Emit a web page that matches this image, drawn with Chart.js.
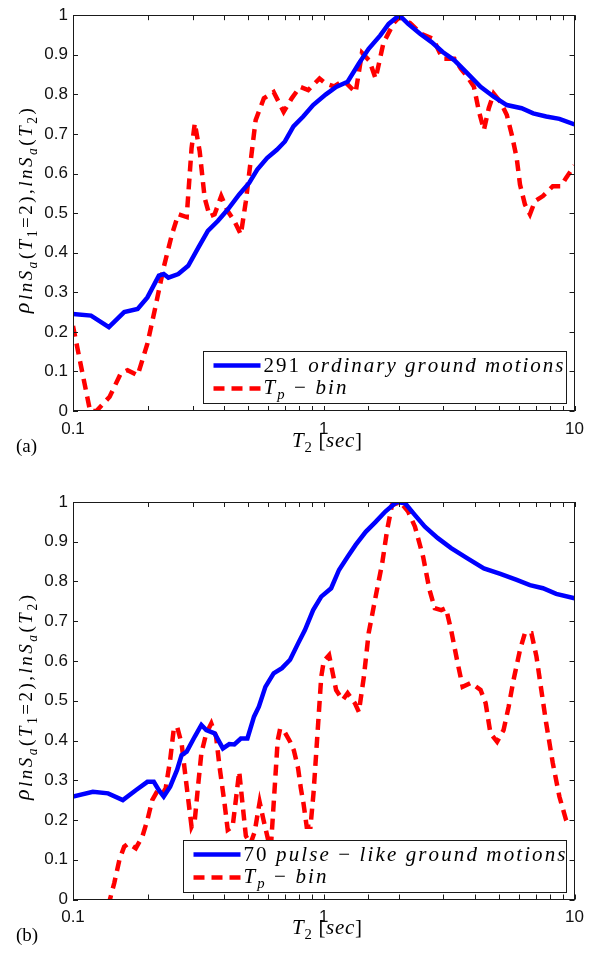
<!DOCTYPE html>
<html>
<head>
<meta charset="utf-8">
<script src="https://cdn.jsdelivr.net/npm/chart.js@4.4.1/dist/chart.umd.min.js"></script>
<style>
  html, body { margin: 0; padding: 0; background: #fff; }
  #wrap { position: relative; width: 592px; height: 956px; }
  canvas { position: absolute; left: 0; }
</style>
</head>
<body>
<div id="wrap">
  <canvas id="chartA" width="592" height="478" style="top:0"></canvas>
  <canvas id="chartB" width="592" height="478" style="top:478px"></canvas>
</div>
<script>
// ---- data ----
// (a) 291 ordinary ground motions
const periodsOrdinary = [0.1, 0.118, 0.139, 0.16, 0.181, 0.198, 0.22, 0.23, 0.24, 0.263, 0.288, 0.316, 0.345, 0.378, 0.414, 0.46, 0.504, 0.543, 0.594, 0.65, 0.70, 0.757, 0.828, 0.907, 1.02, 1.12, 1.245, 1.38, 1.51, 1.68, 1.815, 2.0, 2.17, 2.42, 2.69, 2.98, 3.32, 3.74, 4.22, 4.76, 5.37, 6.15, 6.84, 7.71, 8.7, 10];
const rhoOrdinary = [0.245, 0.241, 0.212, 0.25, 0.258, 0.287, 0.342, 0.346, 0.337, 0.346, 0.367, 0.413, 0.455, 0.48, 0.509, 0.547, 0.576, 0.61, 0.639, 0.66, 0.681, 0.719, 0.744, 0.773, 0.80, 0.819, 0.832, 0.878, 0.915, 0.949, 0.978, 1.0, 0.978, 0.953, 0.932, 0.907, 0.886, 0.853, 0.819, 0.794, 0.773, 0.765, 0.752, 0.744, 0.738, 0.724];

// (a) Tp-bin
const periodsBinA = [0.1, 0.1065, 0.117, 0.124, 0.14, 0.155, 0.165, 0.181, 0.198, 0.213, 0.23, 0.248, 0.263, 0.284, 0.297, 0.306, 0.32, 0.335, 0.351, 0.367, 0.39, 0.414, 0.44, 0.467, 0.489, 0.511, 0.535, 0.577, 0.631, 0.692, 0.745, 0.804, 0.867, 0.962, 1.02, 1.1, 1.2, 1.34, 1.42, 1.52, 1.61, 1.73, 1.9, 2.0, 2.21, 2.45, 2.73, 2.98, 3.32, 3.52, 3.74, 3.97, 4.16, 4.35, 4.55, 4.76, 5.06, 5.37, 5.62, 5.88, 6.06, 6.34, 6.64, 6.95, 7.48, 8.19, 8.84, 9.25, 10];
const rhoBinA = [0.215, 0.128, 0.0, 0.0, 0.036, 0.095, 0.103, 0.09, 0.17, 0.262, 0.363, 0.446, 0.497, 0.49, 0.664, 0.727, 0.656, 0.538, 0.492, 0.497, 0.543, 0.505, 0.48, 0.446, 0.53, 0.631, 0.735, 0.79, 0.806, 0.756, 0.79, 0.819, 0.811, 0.84, 0.827, 0.82, 0.835, 0.805, 0.905, 0.885, 0.84, 0.93, 0.98, 0.995, 0.98, 0.953, 0.94, 0.89, 0.89, 0.865, 0.844, 0.819, 0.756, 0.71, 0.765, 0.802, 0.781, 0.748, 0.698, 0.639, 0.572, 0.522, 0.497, 0.53, 0.543, 0.568, 0.568, 0.589, 0.62];

// (b) 70 pulse-like ground motions
const periodsPulse = [0.1, 0.12, 0.138, 0.158, 0.178, 0.198, 0.21, 0.22, 0.23, 0.244, 0.26, 0.271, 0.284, 0.306, 0.325, 0.34, 0.367, 0.396, 0.42, 0.44, 0.467, 0.496, 0.527, 0.551, 0.585, 0.631, 0.681, 0.734, 0.791, 0.841, 0.907, 0.977, 1.07, 1.15, 1.245, 1.34, 1.47, 1.61, 1.76, 1.95, 2.11, 2.31, 2.53, 2.85, 3.22, 3.74, 4.35, 5.06, 5.88, 6.64, 7.48, 8.45, 10];
const rhoPulse = [0.259, 0.271, 0.267, 0.25, 0.275, 0.296, 0.296, 0.275, 0.259, 0.284, 0.326, 0.363, 0.372, 0.41, 0.439, 0.426, 0.418, 0.38, 0.391, 0.39, 0.405, 0.405, 0.46, 0.485, 0.535, 0.569, 0.582, 0.603, 0.645, 0.678, 0.728, 0.762, 0.783, 0.829, 0.862, 0.892, 0.925, 0.95, 0.976, 1.0, 0.997, 0.967, 0.938, 0.909, 0.884, 0.858, 0.833, 0.819, 0.804, 0.791, 0.783, 0.769, 0.758];

// (b) Tp-bin
const periodsBinB = [0.133, 0.139, 0.146, 0.153, 0.16, 0.166, 0.178, 0.189, 0.198, 0.207, 0.22, 0.233, 0.244, 0.252, 0.26, 0.271, 0.284, 0.297, 0.306, 0.316, 0.325, 0.34, 0.356, 0.372, 0.384, 0.402, 0.414, 0.433, 0.446, 0.46, 0.474, 0.489, 0.51, 0.53, 0.555, 0.575, 0.6, 0.615, 0.64, 0.655, 0.67, 0.7, 0.734, 0.76, 0.79, 0.81, 0.83, 0.855, 0.885, 0.91, 0.94, 0.977, 1.0, 1.05, 1.12, 1.19, 1.245, 1.33, 1.38, 1.445, 1.51, 1.61, 1.71, 1.79, 1.87, 2.02, 2.17, 2.31, 2.49, 2.64, 2.77, 2.94, 3.07, 3.22, 3.42, 3.58, 3.86, 4.22, 4.42, 4.62, 4.91, 5.21, 5.46, 5.71, 6.06, 6.34, 6.73, 7.05, 7.37, 7.71, 8.19, 8.7, 9.25, 9.53];
const rhoBinB = [-0.06, -0.01, 0.041, 0.099, 0.133, 0.141, 0.129, 0.158, 0.2, 0.25, 0.28, 0.271, 0.351, 0.426, 0.435, 0.393, 0.284, 0.183, 0.2, 0.292, 0.368, 0.418, 0.443, 0.41, 0.334, 0.242, 0.175, 0.183, 0.25, 0.322, 0.242, 0.16, 0.14, 0.17, 0.245, 0.2, 0.15, 0.13, 0.3, 0.4, 0.43, 0.42, 0.397, 0.375, 0.33, 0.28, 0.242, 0.183, 0.183, 0.267, 0.4, 0.56, 0.6, 0.615, 0.527, 0.502, 0.519, 0.494, 0.472, 0.56, 0.67, 0.762, 0.846, 0.93, 0.992, 1.0, 0.976, 0.938, 0.862, 0.779, 0.733, 0.728, 0.733, 0.678, 0.594, 0.535, 0.545, 0.527, 0.494, 0.418, 0.397, 0.426, 0.485, 0.552, 0.628, 0.67, 0.67, 0.611, 0.527, 0.443, 0.343, 0.259, 0.2, 0.183];

// tick labels and texts
const xTickLabels = [0.1, 1, 10];
const legendLabelsA = ['291 ordinary ground motions', 'T_p − bin'];
const legendLabelsB = ['70 pulse − like ground motions', 'T_p − bin'];
const xTitle = 'T_2 [sec]';
const yTitle = 'ρ_{lnS_a(T_1=2),lnS_a(T_2)}';

const SERIF = '"Liberation Serif", "DejaVu Serif", serif';
const SANS = '"Liberation Sans", Arial, sans-serif';
const BLUE = '#0000ff';
const RED = '#ff0000';
const INK = '#1a1a1a';

// Превращаем "TeX-подобную" строку в куски текста с шрифтом и сдвигом
function mathParts(src, size, ratios = [1, 0.7, 0.7], shifts = [0, 0.25, 0.45]) {
  const parts = [];
  let i = 0;
  const push = (c, level) => {
    const s = size * ratios[level];
    const italic = /[A-Za-zρ]/.test(c);
    parts.push({ t: c, font: (italic ? 'italic ' : '') + s.toFixed(1) + 'px ' + SERIF, dy: size * shifts[level] });
  };
  const walk = (level) => {
    while (i < src.length) {
      const c = src[i];
      if (c === '}') { i++; return; }
      if (c === '_') {
        i++;
        if (src[i] === '{') { i++; walk(level + 1); }
        else { push(src[i], level + 1); i++; }
        continue;
      }
      push(c, level);
      i++;
    }
  };
  walk(0);
  return parts;
}

// Рисуем куски подряд, растягивая межбуквенный интервал до нужной ширины
function drawParts(ctx, parts, x, y, target) {
  let natural = 0;
  parts.forEach(p => { ctx.font = p.font; p.w = ctx.measureText(p.t).width; natural += p.w; });
  const extra = target && parts.length > 1 ? (target - natural) / (parts.length - 1) : 0;
  let cx = x;
  parts.forEach(p => {
    ctx.font = p.font;
    ctx.fillText(p.t, cx, y + p.dy);
    cx += p.w + extra;
  });
}

// Рамка, внутренние засечки, легенда и подписи осей в стиле MATLAB
const matlabFrame = {
  id: 'matlabFrame',
  afterDatasetsDraw(chart, args, opts) {
    const { ctx, chartArea: a, scales: { x, y } } = chart;
    ctx.save();
    ctx.strokeStyle = INK;
    ctx.lineWidth = 1;
    ctx.strokeRect(Math.round(a.left) + 0.5, Math.round(a.top) + 0.5, Math.round(a.width) - 1, Math.round(a.height) - 1);
    ctx.beginPath();
    y.ticks.forEach(t => {
      const py = Math.round(y.getPixelForValue(t.value)) + 0.5;
      ctx.moveTo(a.left, py); ctx.lineTo(a.left + 5, py);
      ctx.moveTo(a.right, py); ctx.lineTo(a.right - 5, py);
    });
    x.ticks.forEach(t => {
      const px = Math.round(x.getPixelForValue(t.value)) + 0.5;
      ctx.moveTo(px, a.bottom); ctx.lineTo(px, a.bottom - 5);
      ctx.moveTo(px, a.top); ctx.lineTo(px, a.top + 5);
    });
    ctx.stroke();

    // легенда
    const lg = opts.legend;
    const bx = Math.round(a.right - lg.right - lg.width) + 0.5;
    const by = Math.round(a.bottom - lg.bottom - lg.height) + 0.5;
    ctx.fillStyle = '#fff';
    ctx.fillRect(bx, by, lg.width, lg.height);
    ctx.strokeRect(bx, by, lg.width, lg.height);
    lg.rows.forEach((row, i) => {
      const ly = by + 14 + i * 23;
      ctx.beginPath();
      ctx.strokeStyle = row.color;
      ctx.lineWidth = 4.5;
      ctx.setLineDash(row.dash);
      ctx.moveTo(bx + 10, ly);
      ctx.lineTo(bx + 10 + lg.sample, ly);
      ctx.stroke();
      ctx.setLineDash([]);
      ctx.fillStyle = '#000';
      ctx.textBaseline = 'alphabetic';
      drawParts(ctx, mathParts(row.label, 21), bx + lg.sample + 13, by + 20 + i * 22, row.width);
    });
    ctx.restore();
  },
  afterDraw(chart, args, opts) {
    const { ctx, chartArea: a } = chart;
    ctx.save();
    ctx.fillStyle = '#000';
    ctx.textBaseline = 'alphabetic';
    // подпись оси X
    drawParts(ctx, mathParts(xTitle, 21), 292, a.bottom + opts.xTitleDy, 70);
    // буква панели
    ctx.font = '19px ' + SERIF;
    ctx.fillText(opts.letter, 16, a.bottom + 41);
    // подпись оси Y (повёрнутая)
    ctx.translate(29, a.top + 196);
    ctx.rotate(-Math.PI / 2);
    drawParts(ctx, mathParts(yTitle, 22, [1, 0.86, 0.62], [0, 0.12, 0.36]), -102, 0, 205);
    ctx.restore();
  },
};

function series(periods, values) {
  return periods.map((t, i) => ({ x: t, y: values[i] }));
}

function makeChart(canvasId, cfg) {
  const ctx = document.getElementById(canvasId).getContext('2d');
  return new Chart(ctx, {
    type: 'line',
    data: {
      datasets: [
        { label: cfg.labels[0], data: series(cfg.blue[0], cfg.blue[1]), borderColor: BLUE, borderWidth: 4.5, pointRadius: 0, tension: 0 },
        { label: cfg.labels[1], data: series(cfg.red[0], cfg.red[1]), borderColor: RED, borderWidth: 4.5, borderDash: [11, 7], pointRadius: 0, tension: 0 },
      ],
    },
    options: {
      animation: false,
      responsive: false,
      layout: { padding: { left: 0, right: 10, top: cfg.top, bottom: 0 } },
      plugins: {
        legend: { display: false },
        tooltip: { enabled: false },
        matlabFrame: {
          letter: cfg.letter,
          xTitleDy: cfg.xTitleDy,
          legend: {
            width: cfg.legendWidth, height: 52, right: 9, bottom: 8, sample: 47,
            rows: [
              { label: cfg.labels[0], color: BLUE, dash: [], width: cfg.textWidth },
              { label: cfg.labels[1], color: RED, dash: [11, 7], width: 83 },
            ],
          },
        },
      },
      scales: {
        x: {
          type: 'logarithmic',
          min: 0.1,
          max: 10,
          grid: { display: false, drawTicks: false },
          border: { display: false },
          ticks: {
            autoSkip: false,
            maxRotation: 0,
            padding: 8,
            color: '#111',
            font: { family: SANS, size: 17 },
            callback: (v) => {
              const m = xTickLabels.find(t => Math.abs(v - t) < 1e-9);
              return m === undefined ? '' : String(m);
            },
          },
          afterFit: (s) => { s.height = cfg.xHeight; },
        },
        y: {
          min: 0,
          max: 1,
          grid: { display: false, drawTicks: false },
          border: { display: false },
          ticks: {
            stepSize: 0.1,
            padding: 5,
            color: '#111',
            font: { family: SANS, size: 17 },
            callback: (v) => (v === 0 ? '0' : Math.abs(v - 1) < 1e-9 ? '1' : v.toFixed(1)),
          },
          afterFit: (s) => { s.width = 73; },
        },
      },
    },
    plugins: [matlabFrame],
  });
}

makeChart('chartA', {
  letter: '(a)', top: 13, xHeight: 67, xTitleDy: 36,
  labels: legendLabelsA, legendWidth: 363, textWidth: 300,
  blue: [periodsOrdinary, rhoOrdinary], red: [periodsBinA, rhoBinA],
});

makeChart('chartB', {
  letter: '(b)', top: 24, xHeight: 56.5, xTitleDy: 34,
  labels: legendLabelsB, legendWidth: 383, textWidth: 322,
  blue: [periodsPulse, rhoPulse], red: [periodsBinB, rhoBinB],
});
</script>
</body>
</html>
